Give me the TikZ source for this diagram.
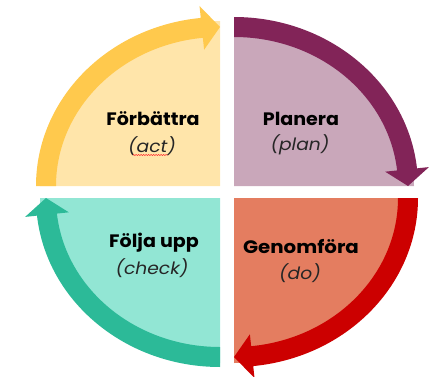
\documentclass[tikz,border=0pt]{standalone}
\usepackage{fontspec}
\setmainfont{Poppins}
\usetikzlibrary{decorations.pathmorphing}
\definecolor{ybd}{RGB}{255,201,77}
\definecolor{yfl}{RGB}{255,229,170}
\definecolor{pbd}{RGB}{130,36,88}
\definecolor{pfl}{RGB}{201,167,186}
\definecolor{rbd}{RGB}{204,0,0}
\definecolor{rfl}{RGB}{228,125,96}
\definecolor{tbd}{RGB}{44,186,152}
\definecolor{tfl}{RGB}{146,230,212}
\tikzset{
  lbl/.style={font=\bfseries\fontsize{18}{20}\selectfont, text=black, inner sep=0pt, anchor=base},
  sub/.style={font=\itshape\fontsize{17}{20}\selectfont, text=black!85, inner sep=0pt, anchor=base},
}
\newcommand{\widerText}[2]{\scalebox{#1}[1]{#2}}
% #1 center, #2 start angle, #3 fill colour, #4 band colour
\newcommand{\quadr}[4]{%
  \fill[#3] (#1) -- ++(#2:180 and 165) arc[start angle=#2, end angle=#2-90, x radius=180, y radius=165] -- cycle;
  \fill[#4] ([shift={(#2:184 and 169)}]#1)
    arc[start angle=#2, end angle=#2-84, x radius=184, y radius=169]
    -- ([shift={(#2-84:196 and 181)}]#1)
    -- ([shift={(#2-90:174 and 159)}]#1)
    -- ([shift={(#2-84:152 and 137)}]#1)
    -- ([shift={(#2-84:164 and 149)}]#1)
    arc[start angle=#2-84, end angle=#2, x radius=164, y radius=149]
    -- cycle;
}
\begin{document}
\begin{tikzpicture}[x=1pt,y=1pt]
\useasboundingbox (0,0) rectangle (431,376);
\coordinate (c1) at (220,190);
\coordinate (c2) at (234,190);
\coordinate (c3) at (234,178);
\coordinate (c4) at (220,178);
\quadr{c1}{180}{yfl}{ybd}
\quadr{c2}{90}{pfl}{pbd}
\quadr{c3}{0}{rfl}{rbd}
\quadr{c4}{270}{tfl}{tbd}
\node[lbl] (t1) at (153,251) {\widerText{1.06}{Förbättra}};
\node[sub] (s1) at (152,224) {\widerText{1.1}{(act)}};
\draw[red!80, line width=0.5pt, decorate, decoration={snake, amplitude=0.6pt, segment length=2.5pt}] ([xshift=5pt,yshift=-3pt]s1.base west) -- ([xshift=-8pt,yshift=-3pt]s1.base east);
\node[lbl] (t2) at (301,251) {\widerText{1.06}{Planera}};
\node[sub] (s2) at (300,226) {\widerText{1.1}{(plan)}};
\node[lbl] (t3) at (154,129) {\widerText{1.06}{Följa upp}};
\node[sub] (s3) at (152,102) {\widerText{1.1}{(check)}};
\node[lbl] (t4) at (301,123) {\widerText{1.1}{Genomföra}};
\node[sub] (s4) at (300,97) {\widerText{1.1}{(do)}};
\end{tikzpicture}
\end{document}
